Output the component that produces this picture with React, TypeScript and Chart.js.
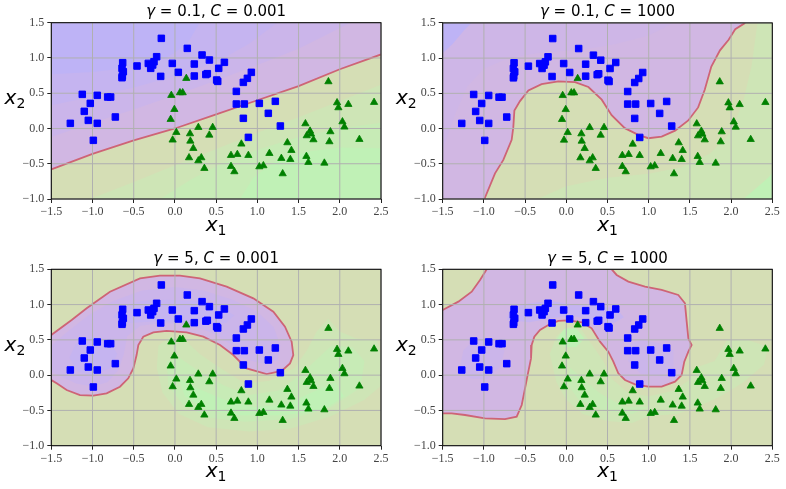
import React, { useEffect, useRef } from "react";
import { Chart, registerables } from "chart.js";
Chart.register(...registerables);

type Pt = [number, number];

// ---------- tick labels / text ----------
const xTickValues = [-1.5, -1.0, -0.5, 0.0, 0.5, 1.0, 1.5, 2.0, 2.5];
const yTickValues = [-1.0, -0.5, 0.0, 0.5, 1.0, 1.5];
const gammaLabels = ["0.1", "0.1", "5", "5"];
const cLabels = ["0.001", "1000", "0.001", "1000"];
const axisLetter = "x";
const xSub = "1";
const ySub = "2";

// ---------- data points ----------
const blueX = [-0.165, 0.15, 0.329, 0.418, 0.6, 0.235, -0.032, 0.531, 0.041, 0.235, 0.393, 0.375, 0.506, 0.519, -0.222, -0.254, -0.323, -0.294, -0.27, -0.173, -0.46, -0.634, -0.642, -0.626, -0.638, -0.642,
  -1.124, -0.942, -0.816, -0.78, -1.027, -1.1, -1.051, -0.942, -1.269, -0.723, -0.99,
  0.927, 0.879, 0.83, 0.745, 0.745, 0.842, 1.024, 1.218, 1.133, 0.83, 1.279, 0.891];
const blueY = [1.278, 1.136, 1.042, 0.971, 0.938, 0.914, 0.923, 0.853, 0.796, 0.744, 0.777, 0.765, 0.687, 0.668, 1.018, 0.947, 0.923, 0.853, 0.9, 0.739, 0.886, 0.933, 0.853, 0.805, 0.744, 0.72,
  0.484, 0.47, 0.446, 0.446, 0.356, 0.243, 0.115, 0.073, 0.073, 0.163, -0.168,
  0.796, 0.711, 0.654, 0.526, 0.347, 0.347, 0.356, 0.385, 0.215, 0.144, 0.035, -0.126];
const greenX = [0.138, -0.044, 0.061, 0.094, -0.007, -0.052, 0.017, -0.028, 0.183, 0.187, 0.223, 0.284, 0.458, 0.417, 0.171, 0.32, 0.284, 0.357,
  0.68, 0.757, 0.806, 0.891, 0.68, 0.721, 1.024, 1.073, 1.146, 1.291, 1.364, 1.413, 1.4, 1.307,
  1.583, 1.639, 1.651, 1.599, 1.68, 1.595, 1.619, 1.813, 1.862, 1.967, 1.983, 2.104, 2.032, 2.056, 1.886, 1.874, 2.238, 2.416];
const greenY = [0.711, 0.47, 0.508, 0.508, 0.271, 0.13, -0.055, -0.163, -0.074, -0.178, -0.282, 0.016, 0.016, -0.093, -0.414, -0.414, -0.457, -0.565,
  -0.381, -0.367, -0.22, -0.381, -0.537, -0.612, -0.542, -0.527, -0.353, -0.423, -0.201, -0.31, -0.438, -0.641,
  0.068, -0.036, -0.078, -0.102, -0.159, -0.395, -0.48, -0.49, 0.664, 0.366, 0.295, 0.342, 0.096, 0.021, -0.045, -0.187, -0.154, 0.371];

// ---------- panel 1 (gamma=0.1, C=0.001) ----------
const p1Boundary: Pt[] = [[-1.5, -0.58], [-1.0, -0.36], [-0.5, -0.17], [0, 0.0], [0.5, 0.2], [1.0, 0.4], [1.5, 0.6], [2.0, 0.84], [2.5, 1.05]];
const p1Class0: Pt[] = [...p1Boundary, [2.5, 1.5], [-1.5, 1.5]];
const p1BandA: Pt[] = [[-1.5, -0.12], [-1, 0.08], [-0.5, 0.27], [0, 0.47], [0.5, 0.68], [1.0, 0.9], [1.5, 1.13], [2.13, 1.5], [-1.5, 1.5]];
const p1BandB: Pt[] = [[-1.5, 0.33], [-1, 0.45], [-0.5, 0.58], [0, 0.74], [0.5, 0.94], [0.9, 1.2], [1.24, 1.5], [-1.5, 1.5]];
const p1BandC: Pt[] = [[-1.5, 0.77], [-1, 0.8], [-0.5, 0.87], [-0.1, 1.0], [0.15, 1.2], [0.3, 1.5], [-1.5, 1.5]];
const p1GreenA: Pt[] = [[-1.03, -1], [-0.5, -0.76], [0, -0.52], [0.5, -0.29], [1.0, -0.06], [1.5, 0.16], [2.0, 0.39], [2.5, 0.62], [2.5, -1]];
const p1GreenB: Pt[] = [[-0.18, -1], [0.2, -0.72], [0.6, -0.48], [1.0, -0.3], [1.5, -0.12], [2.0, 0.0], [2.5, 0.08], [2.5, -1]];
const p1GreenC: Pt[] = [[0.79, -1], [0.95, -0.7], [1.2, -0.48], [1.6, -0.33], [2.0, -0.27], [2.5, -0.28], [2.5, -1]];

// ---------- panel 2 (gamma=0.1, C=1000) ----------
const p2Boundary: Pt[] = [[-0.994, -1], [-0.865, -0.635], [-0.764, -0.445], [-0.663, -0.16], [-0.643, 0.02], [-0.63, 0.257], [-0.562, 0.39], [-0.46, 0.54], [-0.3, 0.63], [-0.096, 0.67], [0.106, 0.66], [0.268, 0.59], [0.43, 0.41], [0.55, 0.19], [0.71, 0.006], [0.874, -0.09], [0.995, -0.137], [1.157, -0.113], [1.32, -0.03], [1.48, 0.115], [1.6, 0.3], [1.68, 0.55], [1.76, 0.88], [1.865, 1.11], [1.97, 1.26], [2.05, 1.41], [2.17, 1.5]];
const p2Class0: Pt[] = [[-1.5, -1], ...p2Boundary, [-1.5, 1.5]];
const p2BandA: Pt[] = [[-1.5, -0.3], [-1.35, 0.2], [-1.2, 0.6], [-1.0, 0.85], [-0.7, 1.0], [-0.3, 1.08], [0.2, 1.12], [0.6, 1.2], [1.0, 1.32], [1.3, 1.5], [-1.5, 1.5]];
const p2BandB: Pt[] = [[-1.5, 1.07], [-1.38, 1.2], [-1.25, 1.38], [-1.15, 1.5], [-1.5, 1.5]];
const p2GreenA: Pt[] = [[-0.35, -1], [0, -0.82], [0.5, -0.7], [1.0, -0.64], [1.4, -0.55], [1.75, -0.35], [2.0, -0.05], [2.15, 0.4], [2.25, 0.9], [2.32, 1.5], [2.5, 1.5], [2.5, -1]];
const p2GreenB: Pt[] = [[2.15, -1], [2.3, -0.85], [2.45, -0.7], [2.5, -0.63], [2.5, -1]];

// ---------- panel 3 (gamma=5, C=0.001) ----------
const p3Boundary: Pt[] = [[-1.5, 0.569], [-1.253, 0.782], [-1.071, 0.947], [-0.788, 1.183], [-0.424, 1.372], [-0.182, 1.41], [0.061, 1.41], [0.304, 1.372], [0.627, 1.254], [0.951, 1.088], [1.194, 0.899], [1.335, 0.687], [1.416, 0.474], [1.436, 0.285], [1.396, 0.167], [1.295, 0.059], [1.113, 0.016], [0.87, 0.096], [0.708, 0.285], [0.547, 0.427], [0.344, 0.545], [0.142, 0.607], [-0.101, 0.626], [-0.262, 0.607], [-0.384, 0.545], [-0.444, 0.427], [-0.465, 0.285], [-0.505, 0.096], [-0.566, -0.045], [-0.667, -0.164], [-0.829, -0.258], [-0.99, -0.291], [-1.152, -0.282], [-1.314, -0.211], [-1.435, -0.116], [-1.5, -0.069]];
const p3Class0: Pt[] = [...p3Boundary];
const p3BandA: Pt[] = [[-1.5, 0.42], [-1.3, 0.62], [-1.05, 0.85], [-0.75, 1.05], [-0.4, 1.2], [0, 1.25], [0.35, 1.2], [0.7, 1.07], [1.0, 0.9], [1.2, 0.68], [1.28, 0.42], [1.25, 0.22], [1.1, 0.15], [0.9, 0.22], [0.7, 0.42], [0.45, 0.6], [0.15, 0.72], [-0.15, 0.74], [-0.42, 0.7], [-0.58, 0.55], [-0.62, 0.3], [-0.68, 0.08], [-0.82, -0.1], [-1.0, -0.16], [-1.2, -0.12], [-1.38, -0.02], [-1.5, 0.05]];
const p3BandB: Pt[] = [[-0.75, 0.82], [-0.65, 0.97], [-0.4, 1.05], [-0.1, 1.07], [0.25, 1.05], [0.55, 0.97], [0.72, 0.85], [0.62, 0.74], [0.35, 0.72], [0.05, 0.76], [-0.25, 0.76], [-0.55, 0.74]];
const p3BandC: Pt[] = [[-1.28, 0.25], [-1.2, 0.45], [-1.0, 0.55], [-0.8, 0.5], [-0.7, 0.3], [-0.78, 0.1], [-0.98, 0.0], [-1.18, 0.05]];
const p3BandD: Pt[] = [[0.7, 0.45], [0.78, 0.7], [0.92, 0.78], [1.05, 0.55], [1.22, 0.42], [1.2, 0.22], [1.0, 0.18], [0.8, 0.25]];
const p3GreenA: Pt[] = [[-0.2, 0.42], [-0.05, 0.55], [0.12, 0.5], [0.3, 0.3], [0.55, 0.1], [0.85, -0.12], [1.15, -0.08], [1.45, 0.1], [1.6, 0.35], [1.72, 0.62], [1.86, 0.8], [2.0, 0.62], [2.2, 0.52], [2.45, 0.5], [2.5, 0.3], [2.5, -0.15], [2.3, -0.35], [1.9, -0.58], [1.4, -0.76], [0.9, -0.8], [0.4, -0.74], [0.05, -0.55], [-0.15, -0.25], [-0.22, 0.1]];
const p3GreenB: Pt[] = [[-0.1, 0.2], [0.05, 0.25], [0.3, 0.05], [0.6, -0.15], [0.9, -0.28], [1.25, -0.22], [1.5, -0.02], [1.7, 0.2], [1.9, 0.42], [2.15, 0.4], [2.3, 0.2], [2.25, -0.18], [1.9, -0.45], [1.4, -0.62], [0.85, -0.66], [0.4, -0.6], [0.1, -0.42], [-0.08, -0.15]];
const p3GreenC: Pt[] = [[0.05, -0.05], [0.3, -0.2], [0.6, -0.35], [0.95, -0.45], [1.35, -0.42], [1.65, -0.25], [1.95, -0.1], [2.05, -0.3], [1.8, -0.5], [1.3, -0.57], [0.8, -0.57], [0.4, -0.5], [0.12, -0.3]];

// ---------- panel 4 (gamma=5, C=1000) ----------
const p4BoundaryA: Pt[] = [[-1.5, 0.923], [-1.31, 1.042], [-1.148, 1.183], [-1.047, 1.349], [-0.966, 1.5]];
const p4BoundaryB: Pt[] = [[0.551, 1.5], [0.611, 1.42], [0.753, 1.325], [0.955, 1.254], [1.157, 1.207], [1.359, 1.136], [1.44, 1.018], [1.461, 0.758], [1.481, 0.522], [1.521, 0.427], [1.481, 0.333], [1.432, 0.191], [1.4, 0.002], [1.319, -0.093], [1.157, -0.163], [0.995, -0.163], [0.834, -0.13], [0.712, -0.069], [0.631, 0.026], [0.571, 0.191], [0.51, 0.333], [0.409, 0.474], [0.308, 0.664], [0.187, 0.749], [0.025, 0.777], [-0.097, 0.768], [-0.218, 0.711], [-0.319, 0.64], [-0.388, 0.545], [-0.42, 0.427], [-0.428, 0.238], [-0.461, 0.049], [-0.501, -0.187], [-0.541, -0.423], [-0.602, -0.589], [-0.744, -0.622], [-0.986, -0.612], [-1.229, -0.565], [-1.391, -0.541], [-1.5, -0.541]];
const p4Class0: Pt[] = [...p4BoundaryA, ...p4BoundaryB];
const p4BandB: Pt[] = [[-0.72, 0.78], [-0.68, 0.95], [-0.45, 1.02], [-0.2, 1.05], [0.1, 1.0], [0.35, 0.98], [0.6, 0.95], [0.7, 0.82], [0.55, 0.72], [0.3, 0.78], [0.05, 0.85], [-0.2, 0.8], [-0.45, 0.75]];
const p4BandC: Pt[] = [[-1.3, 0.05], [-1.25, 0.35], [-1.1, 0.52], [-0.9, 0.52], [-0.75, 0.35], [-0.8, 0.12], [-0.95, -0.05], [-1.15, -0.05]];
const p4BandD: Pt[] = [[0.75, 0.2], [0.78, 0.45], [0.9, 0.5], [1.15, 0.45], [1.3, 0.35], [1.3, 0.1], [1.15, -0.02], [0.9, 0.02]];
const p4GreenA: Pt[] = [[-0.2, 0.3], [-0.12, 0.55], [0.0, 0.68], [0.18, 0.65], [0.3, 0.45], [0.45, 0.2], [0.55, -0.05], [0.75, -0.25], [1.0, -0.3], [1.3, -0.22], [1.48, -0.08], [1.6, 0.12], [1.8, 0.2], [1.95, 0.5], [2.2, 0.5], [2.45, 0.4], [2.4, 0.15], [2.15, -0.1], [1.9, -0.28], [1.65, -0.42], [1.35, -0.55], [1.0, -0.58], [0.8, -0.68], [0.5, -0.65], [0.2, -0.55], [0.0, -0.35], [-0.12, -0.1]];
const p4GreenB: Pt[] = [[-0.12, 0.5], [-0.02, 0.66], [0.12, 0.66], [0.22, 0.52], [0.12, 0.4], [-0.02, 0.4]];
const p4GreenC: Pt[] = [[0.05, 0.1], [0.2, -0.05], [0.4, -0.25], [0.7, -0.45], [1.0, -0.45], [0.8, -0.55], [0.45, -0.5], [0.15, -0.35], [0.0, -0.1]];

// ---------- styles ----------
const OLIVE = "rgb(213,222,181)";
const PURPLE = "rgb(209,183,227)";
const PA = "rgb(203,181,234)";
const PA2 = "rgb(206,182,231)";
const PB = "rgb(197,180,240)";
const PC = "rgb(190,179,246)";
const GA = "rgb(206,229,182)";
const GB = "rgb(199,235,182)";
const GC = "rgb(192,241,182)";
const EDGE = "rgb(206,100,118)";

type PanelCfg = {
  left: number; top: number; w: number; h: number;
  L: number; R: number; T: number; B: number;
  region: Pt[]; edges: Pt[][]; bands: [Pt[], string][];
};

const PANELS: PanelCfg[] = [
  { left: 0, top: 0, w: 393, h: 240, L: 51.3, R: 381, T: 22.7, B: 199, region: p1Class0, edges: [p1Boundary],
    bands: [[p1BandA, PA], [p1BandB, PB], [p1BandC, PC], [p1GreenA, GA], [p1GreenB, GB], [p1GreenC, GC]] },
  { left: 393, top: 0, w: 393, h: 240, L: 49.7, R: 379.3, T: 22.9, B: 199, region: p2Class0, edges: [p2Boundary],
    bands: [[p2BandA, PA2], [p2BandB, PC], [p2GreenA, GA], [p2GreenB, GC]] },
  { left: 0, top: 245, w: 393, h: 244, L: 51.3, R: 381, T: 24.3, B: 200.7, region: p3Class0, edges: [p3Boundary],
    bands: [[p3BandA, PA], [p3BandB, PB], [p3BandC, PB], [p3BandD, PA], [p3GreenA, GA], [p3GreenB, GB], [p3GreenC, GC]] },
  { left: 393, top: 245, w: 393, h: 244, L: 49.7, R: 379.3, T: 24.3, B: 200.7, region: p4Class0, edges: [p4BoundaryA, p4BoundaryB],
    bands: [[p4BandB, PB], [p4BandC, PA], [p4BandD, PA], [p4GreenA, GA], [p4GreenB, GC], [p4GreenC, GB]] },
];

const toXY = (pts: Pt[]) => pts.map(([x, y]) => ({ x, y }));
const fmt = (v: number) => (v < 0 ? "\u2212" : "") + Math.abs(v).toFixed(1);

function drawSubLabel(ctx: CanvasRenderingContext2D, x: number, y: number, sub: string, align: "center" | "right") {
  ctx.font = "italic 20px 'DejaVu Sans'";
  const w1 = ctx.measureText(axisLetter).width;
  ctx.font = "14px 'DejaVu Sans'";
  const w2 = ctx.measureText(sub).width;
  const total = w1 + w2;
  const start = align === "center" ? x - total / 2 : x - total;
  ctx.fillStyle = "#000";
  ctx.textBaseline = "alphabetic";
  ctx.textAlign = "left";
  ctx.font = "italic 20px 'DejaVu Sans'";
  ctx.fillText(axisLetter, start, y);
  ctx.font = "14px 'DejaVu Sans'";
  ctx.fillText(sub, start + w1, y + 4);
}

function Panel({ idx }: { idx: number }) {
  const ref = useRef<HTMLCanvasElement>(null);
  const cfg = PANELS[idx];
  useEffect(() => {
    const c = PANELS[idx];
    const decor = {
      id: "decor" + idx,
      beforeDraw(chart: any) {
        const { ctx, chartArea: a } = chart;
        ctx.save();
        ctx.fillStyle = OLIVE;
        ctx.fillRect(a.left, a.top, a.right - a.left, a.bottom - a.top);
        ctx.restore();
      },
      beforeDatasetDraw(chart: any, args: any) {
        if (args.index !== 1) return;
        const { ctx, chartArea: a, scales } = chart;
        ctx.save();
        ctx.strokeStyle = "#b0b0b0";
        ctx.lineWidth = 1;
        ctx.beginPath();
        for (const v of xTickValues) {
          const px = scales.x.getPixelForValue(v);
          ctx.moveTo(px, a.top);
          ctx.lineTo(px, a.bottom);
        }
        for (const v of yTickValues) {
          const py = scales.y.getPixelForValue(v);
          ctx.moveTo(a.left, py);
          ctx.lineTo(a.right, py);
        }
        ctx.stroke();
        ctx.restore();
      },
      afterDraw(chart: any) {
        const { ctx, chartArea: a } = chart;
        ctx.save();
        ctx.strokeStyle = "#000";
        ctx.lineWidth = 1;
        ctx.strokeRect(a.left, a.top, a.right - a.left, a.bottom - a.top);
        // title
        const segs: [string, boolean][] = [["\u03b3", true], [" = ", false], [gammaLabels[idx] + ", ", false], ["C", true], [" = ", false], [cLabels[idx], false]];
        const fN = "15px 'DejaVu Sans'";
        const fI = "italic 15px 'DejaVu Sans'";
        let total = 0;
        for (const [t, it] of segs) { ctx.font = it ? fI : fN; total += ctx.measureText(t).width; }
        let x = (a.left + a.right) / 2 - total / 2;
        const base = a.top - 6.8;
        ctx.fillStyle = "#000";
        ctx.textAlign = "left";
        ctx.textBaseline = "alphabetic";
        for (const [t, it] of segs) { ctx.font = it ? fI : fN; ctx.fillText(t, x, base); x += ctx.measureText(t).width; }
        // axis labels
        drawSubLabel(ctx, (a.left + a.right) / 2, a.bottom + 31.5, xSub, "center");
        drawSubLabel(ctx, a.left - 26, (a.top + a.bottom) / 2 - 7, ySub, "right");
        ctx.restore();
      },
    };

    const datasets: any[] = [
      { type: "scatter", data: greenX.map((x, i) => ({ x, y: greenY[i] })), pointStyle: "triangle", pointRadius: 4.2, backgroundColor: "rgb(0,128,0)", borderColor: "rgb(0,128,0)", borderWidth: 0.8, order: 0 },
      { type: "scatter", data: blueX.map((x, i) => ({ x, y: blueY[i] })), pointStyle: "rect", pointRadius: 4.6, backgroundColor: "rgb(0,0,255)", borderColor: "rgb(0,0,255)", borderWidth: 1, order: 1 },
    ];
    c.edges.forEach((e) => datasets.push({ type: "line", data: toXY(e), fill: false, borderColor: EDGE, borderWidth: 1.8, pointRadius: 0, tension: 0, order: 2 }));
    datasets.push({ type: "line", data: toXY(c.region), fill: "shape", backgroundColor: PURPLE, borderColor: "rgba(0,0,0,0)", borderWidth: 0, pointRadius: 0, tension: 0, order: 100 });
    c.bands.forEach(([pts, col], i) => datasets.push({ type: "line", data: toXY(pts), fill: "shape", backgroundColor: col, borderColor: "rgba(0,0,0,0)", borderWidth: 0, pointRadius: 0, tension: 0, order: 90 - i }));

    const tickFont = { family: "'Liberation Serif'", size: 12 };
    const chart = new Chart(ref.current as HTMLCanvasElement, {
      type: "scatter",
      data: { datasets },
      options: {
        animation: false,
        responsive: false,
        devicePixelRatio: 1,
        events: [],
        layout: { padding: { left: 0, top: c.T, right: c.w - c.R, bottom: 0 } },
        plugins: { legend: { display: false }, tooltip: { enabled: false }, title: { display: false } },
        scales: {
          x: {
            type: "linear", min: -1.5, max: 2.5,
            afterFit: (s: any) => { s.height = c.h - c.B; },
            afterBuildTicks: (s: any) => { s.ticks = xTickValues.map((v) => ({ value: v })); },
            ticks: { callback: (v: any) => fmt(Number(v)), font: tickFont, color: "#444", padding: 2, maxRotation: 0, autoSkip: false },
            grid: { color: "rgba(0,0,0,0)", tickColor: "#222", tickLength: 4, tickWidth: 1 },
            border: { display: false },
          },
          y: {
            type: "linear", min: -1.0, max: 1.5,
            afterFit: (s: any) => { s.width = c.L; },
            afterBuildTicks: (s: any) => { s.ticks = yTickValues.map((v) => ({ value: v })); },
            ticks: { callback: (v: any) => fmt(Number(v)), font: tickFont, color: "#444", padding: 3, autoSkip: false },
            grid: { color: "rgba(0,0,0,0)", tickColor: "#222", tickLength: 4, tickWidth: 1 },
            border: { display: false },
          },
        },
      } as any,
      plugins: [decor as any],
    });
    return () => chart.destroy();
  }, [idx]);
  return (
    <canvas ref={ref} width={cfg.w} height={cfg.h}
      style={{ position: "absolute", left: cfg.left, top: cfg.top, width: cfg.w, height: cfg.h }} />
  );
}

export default function App() {
  return (
    <div style={{ position: "absolute", left: 0, top: 0, width: 786, height: 489, background: "#fff" }}>
      {PANELS.map((_, i) => <Panel key={i} idx={i} />)}
    </div>
  );
}
